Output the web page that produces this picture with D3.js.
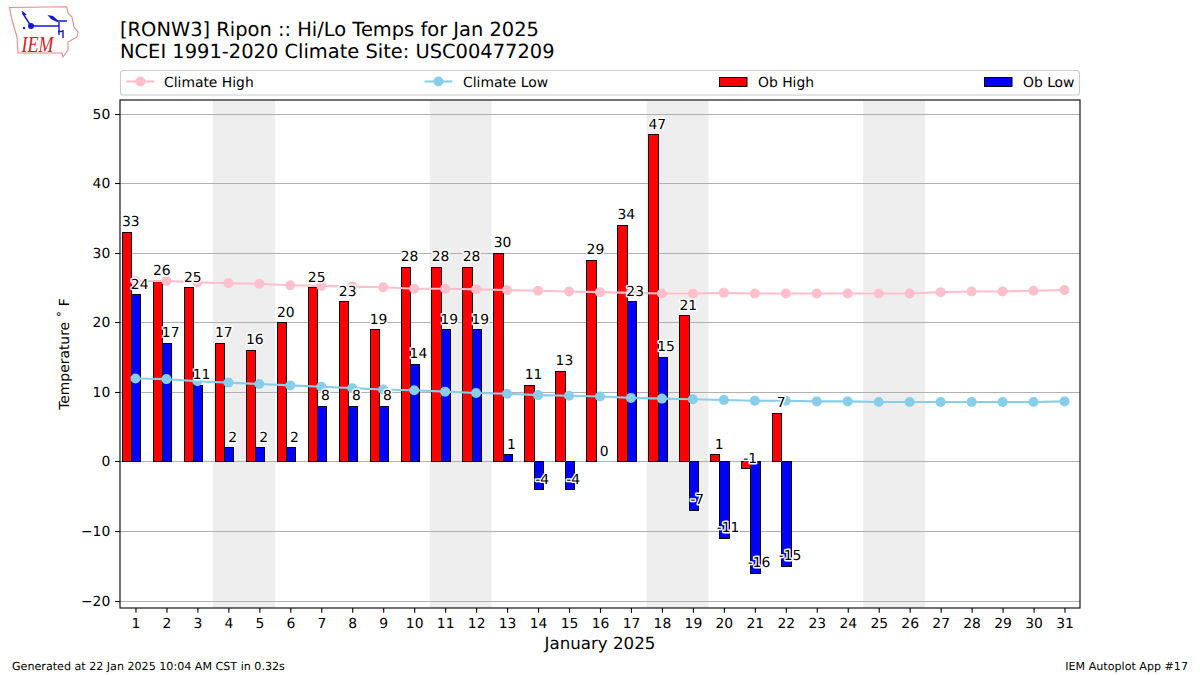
<!DOCTYPE html>
<html><head><meta charset="utf-8">
<script src="https://cdn.jsdelivr.net/npm/d3@7/dist/d3.min.js"></script>
<style>html,body{margin:0;padding:0;background:#fff}svg{display:block}text{font-family:"DejaVu Sans",sans-serif;fill:#000;text-rendering:geometricPrecision}</style>
</head><body><svg id="c" width="1200" height="675"></svg>
<script>
const obHigh=[33,26,25,17,16,20,25,23,19,28,28,28,30,11,13,29,34,47,21,1,-1,7];
const obLow=[24,17,11,2,2,2,8,8,8,14,19,19,1,-4,-4,0,23,15,-7,-11,-16,-15];
const climateHigh=[26.0,26.0,25.8,25.7,25.6,25.4,25.3,25.2,25.1,24.9,24.9,24.8,24.7,24.6,24.5,24.4,24.3,24.2,24.2,24.3,24.2,24.2,24.2,24.2,24.2,24.2,24.4,24.5,24.5,24.6,24.7];
const climateLow=[12.0,11.9,11.6,11.4,11.2,11.0,10.8,10.6,10.4,10.3,10.1,9.9,9.8,9.6,9.5,9.4,9.2,9.1,9.0,8.9,8.8,8.8,8.7,8.7,8.6,8.6,8.6,8.6,8.6,8.6,8.7];
const weekendStarts=[4,11,18,25];
const yTicks=[-20,-10,0,10,20,30,40,50];
const titleLines=["[RONW3] Ripon :: Hi/Lo Temps for Jan 2025","NCEI 1991-2020 Climate Site: USC00477209"];
const days=d3.range(1,32);

const svg=d3.select("#c");
const L=120,R=1080,T=100,B=608;
const x=d3.scaleLinear().domain([0.5,31.5]).range([L,R]);
const y=d3.scaleLinear().domain([52.02,-21]).range([T,B]);
const barW=x(0.3)-x(0);
const snap=v=>Math.floor(v)+.5;

// logo
const logo=svg.append("g");
logo.append("path").attr("d","M9.5 7.5L66.7 6.7L68 13L72 17L74 27L78 32L77 37L68 42L68 50L63 57L62 53L18 53L17 37L12 20Z")
  .attr("fill","none").attr("stroke","#e58a8a").attr("stroke-width",1.1);
logo.append("path").attr("d","M31 26H59M59 22V35M22.5 13L31 26M22 11.5L26 15M57 21H67M58 31.5H63M63 30V38")
  .attr("fill","none").attr("stroke","#1515d8").attr("stroke-width",1.4);
logo.append("circle").attr("cx",31).attr("cy",26).attr("r",3).attr("fill","#1515d8");
logo.append("circle").attr("cx",24).attr("cy",28).attr("r",1.2).attr("fill","#1515d8");
logo.append("path").attr("d","M47.5 15L53 16L58 20.5L57 22L51 19Z").attr("fill","#1515d8");
logo.append("text").attr("x",21.5).attr("y",51.5).attr("font-size",23).attr("font-style","italic")
  .style("font-family","'Liberation Serif',serif").style("fill","#d62020").attr("textLength",32).attr("lengthAdjust","spacingAndGlyphs").text("IEM");

// titles
svg.selectAll(".title").data(titleLines).join("text").attr("class","title")
  .attr("x",120).attr("y",(d,i)=>36+i*21.7).attr("font-size",19.44).text(d=>d);

// weekend shading
svg.selectAll(".wk").data(weekendStarts).join("rect").attr("class","wk")
  .attr("x",d=>x(d-0.5)).attr("width",d=>x(d+1.5)-x(d-0.5)).attr("y",T).attr("height",B-T).attr("fill","#eeeeee");

// grid
svg.selectAll(".grid").data(yTicks).join("line").attr("class","grid")
  .attr("x1",L).attr("x2",R).attr("y1",d=>snap(y(d))).attr("y2",d=>snap(y(d)))
  .attr("stroke","#b0b0b0").attr("stroke-width",1.1);

// bars
const hiLeft=d=>x(d)-barW*1.42, loLeft=d=>x(d)-barW*0.42;
const bar=(cls,vals,left,col)=>svg.selectAll("."+cls).data(vals).join("rect").attr("class",cls)
  .attr("x",(d,i)=>snap(left(i+1))).attr("width",(d,i)=>snap(left(i+1)+barW)-snap(left(i+1)))
  .attr("y",d=>snap(Math.min(y(d),y(0)))).attr("height",d=>Math.abs(snap(y(d))-snap(y(0))))
  .attr("fill",col).attr("stroke","#000").attr("stroke-width",1);
bar("hi",obHigh,hiLeft,"#ff0000");
bar("lo",obLow,loLeft,"#0000ff");

// climate lines
const line=d3.line().x((d,i)=>x(i+1)).y(d=>y(d));
const climate=(cls,vals,col)=>{
  svg.append("path").datum(vals).attr("d",line).attr("fill","none").attr("stroke",col).attr("stroke-width",2.08);
  svg.selectAll("."+cls).data(vals).join("circle").attr("class",cls)
    .attr("cx",(d,i)=>x(i+1)).attr("cy",d=>y(d)).attr("r",5).attr("fill",col);
};
climate("ch",climateHigh,"#ffc0cb");
climate("cl",climateLow,"#87ceeb");

// value labels
const label=(cls,vals,off)=>svg.selectAll("."+cls).data(vals).join("text").attr("class",cls)
  .attr("x",(d,i)=>x(i+1)+off).attr("y",d=>y(d)-6.2).attr("text-anchor","middle").attr("font-size",13.89)
  .attr("stroke","#fff").attr("stroke-width",2.8).attr("paint-order","stroke").attr("stroke-linejoin","round").text(d=>d);
label("lh",obHigh,-4.6);
label("ll",obLow,4.2);

// axes frame
svg.append("rect").attr("x",L).attr("y",T).attr("width",R-L).attr("height",B-T).attr("fill","none").attr("stroke","#000").attr("stroke-width",1.1);
const xAxis=svg.append("g").attr("transform",`translate(0,${B})`).call(d3.axisBottom(x).tickValues(days).tickFormat(d3.format("d")).tickSize(4.86).tickPadding(4.9));
const yAxis=svg.append("g").attr("transform",`translate(${L},0)`).call(d3.axisLeft(y).tickValues(yTicks).tickFormat(d=>String(d).replace("-","\u2212")).tickSize(4.86).tickPadding(4.9));
yAxis.selectAll(".tick").attr("transform",d=>`translate(0,${snap(y(d))})`);
[xAxis,yAxis].forEach(a=>{a.select(".domain").remove();a.selectAll("line").attr("stroke","#000").attr("stroke-width",1.1);
  a.selectAll("text").attr("font-size",13.89).style("font-family","'DejaVu Sans'");});

svg.append("text").attr("x",600).attr("y",649).attr("text-anchor","middle").attr("font-size",16.67).text("January 2025");
svg.append("text").attr("transform","translate(69,354) rotate(-90)").attr("text-anchor","middle").attr("font-size",13.89).text("Temperature \u02DA F");

// legend
svg.append("rect").attr("x",120.5).attr("y",70.5).attr("width",959).attr("height",24.5).attr("rx",3).attr("fill","#fff").attr("stroke","#cccccc").attr("stroke-width",1.1);
const legendLines=[["Climate High","#ffc0cb",126.5,164],["Climate Low","#87ceeb",424.5,463]];
const legendBars=[["Ob High","#ff0000",719,758],["Ob Low","#0000ff",984,1023]];
legendLines.forEach(([t,c,px,tx])=>{
  svg.append("line").attr("x1",px).attr("x2",px+27.8).attr("y1",81.5).attr("y2",81.5).attr("stroke",c).attr("stroke-width",2.08);
  svg.append("circle").attr("cx",px+13.9).attr("cy",81.5).attr("r",5).attr("fill",c);
  svg.append("text").attr("x",tx).attr("y",86.5).attr("font-size",13.89).text(t);
});
legendBars.forEach(([t,c,px,tx])=>{
  svg.append("rect").attr("x",px+.5).attr("y",77.5).attr("width",27.5).attr("height",9).attr("fill",c).attr("stroke","#000").attr("stroke-width",1);
  svg.append("text").attr("x",tx).attr("y",86.5).attr("font-size",13.89).text(t);
});

// footer
svg.append("text").attr("x",12).attr("y",670).attr("font-size",11.11).text("Generated at 22 Jan 2025 10:04 AM CST in 0.32s");
svg.append("text").attr("x",1188).attr("y",670).attr("text-anchor","end").attr("font-size",11.11).text("IEM Autoplot App #17");
</script></body></html>
